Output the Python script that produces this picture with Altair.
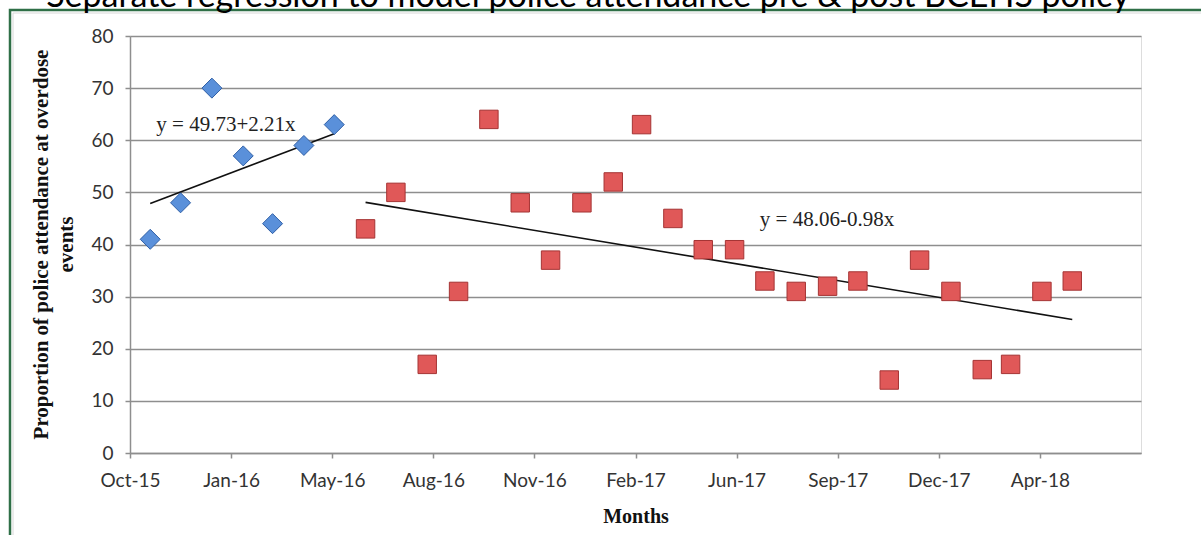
import altair as alt
import pandas as pd

# ---------------- data ----------------
months = [
    "2015-11", "2015-12", "2016-01", "2016-02", "2016-03", "2016-04", "2016-05",
    "2016-06", "2016-07", "2016-08", "2016-09", "2016-10", "2016-11", "2016-12",
    "2017-01", "2017-02", "2017-03", "2017-04", "2017-05", "2017-06", "2017-07",
    "2017-08", "2017-09", "2017-10", "2017-11", "2017-12", "2018-01", "2018-02",
    "2018-03", "2018-04", "2018-05",
]
pre_values = [41, 48, 70, 57, 44, 59, 63]
post_values = [43, 50, 17, 31, 64, 48, 37, 48, 52, 63, 45, 39, 39, 33, 31, 32,
               33, 14, 37, 31, 16, 17, 31, 33]

tick_labels = ["Oct-15", "Jan-16", "May-16", "Aug-16", "Nov-16", "Feb-17",
               "Jun-17", "Sep-17", "Dec-17", "Apr-18"]
axis_start = "2015-10-12"
tick_step_days = 100
axis_span_days = 1000
y_ticks = [0, 10, 20, 30, 40, 50, 60, 70, 80]

eq_texts = ["y = 49.73+2.21x", "y = 48.06-0.98x"]
eq_dates = ["2015-11-07", "2017-06-26"]
eq_values = [62.9, 44.7]

title_text = "Separate regression to model police attendance pre & post BCEHS policy"
y_title = ["Proportion of police attendance at overdose", "events"]
x_title = "Months"


def ms(s):
    return int(pd.Timestamp(s, tz="UTC").value // 10**6)


DAY = 86400000
t0 = ms(axis_start)

df = pd.DataFrame({
    "t": [ms(m + "-01") for m in months],
    "value": pre_values + post_values,
    "phase": ["pre"] * len(pre_values) + ["post"] * len(post_values),
})
ann = pd.DataFrame({
    "t": [ms(d) for d in eq_dates],
    "value": eq_values,
    "label": eq_texts,
})
one = pd.DataFrame({"a": [0]})

tick_values = [t0 + k * tick_step_days * DAY for k in range(len(tick_labels))]
label_expr = ("[" + ",".join("'%s'" % l for l in tick_labels) + "]"
              + "[round((datum.value - %d) / %d)]" % (t0, tick_step_days * DAY))

GRID = "#8e8e8e"
LABEL = "#333333"

xscale = alt.Scale(type="utc", domain=[t0, t0 + axis_span_days * DAY])
yscale = alt.Scale(domain=[0, 80], nice=False)

xenc = alt.X(
    "t:T", scale=xscale,
    axis=alt.Axis(
        values=tick_values, labelExpr=label_expr, grid=False,
        domainColor=GRID, domainWidth=1.5, tickColor=GRID, tickWidth=1.5, tickSize=5,
        labelFont="Lato", labelFontSize=19, labelColor=LABEL, labelPadding=13,
        labelFlush=False, labelOverlap=False,
        title=x_title, titleFont="Liberation Serif", titleFontSize=20,
        titleFontWeight="bold", titleColor="#111111",
        titleBaseline="alphabetic", titleY=69,
    ),
)
yenc = alt.Y(
    "value:Q", scale=yscale,
    axis=alt.Axis(
        values=y_ticks, grid=True, gridColor=GRID, gridWidth=1.5,
        domainColor=GRID, domainWidth=1.5, tickColor=GRID, tickWidth=1.5, tickSize=5,
        labelFont="Lato", labelFontSize=19, labelColor=LABEL, labelPadding=12,
        title=y_title, titleFont="Liberation Serif", titleFontSize=21,
        titleFontWeight="bold", titleColor="#111111", titleLineHeight=25,
        titleBaseline="alphabetic", titleX=-83, titleY=208,
    ),
)

frame = alt.Chart(one).mark_rect(fillOpacity=0, stroke="#2f6f47", strokeWidth=2.5).encode(
    x=alt.value(-120), y=alt.value(-26), x2=alt.value(1200), y2=alt.value(600)
)
frame_inner = alt.Chart(one).mark_rect(fillOpacity=0, stroke="#d8d8d8", strokeWidth=1).encode(
    x=alt.value(-117), y=alt.value(-23), x2=alt.value(1200), y2=alt.value(600)
)

title = alt.Chart(one).mark_text(
    text=title_text, font="Lato", fontSize=34, color="#000000",
    align="center", baseline="alphabetic",
).encode(x=alt.value(458), y=alt.value(-29))

pre_pts = alt.Chart(df).transform_filter("datum.phase == 'pre'").mark_point(
    shape="diamond", filled=True, fill="#5a90da", stroke="#2f5fa6",
    strokeWidth=1, size=400, opacity=1,
).encode(x=xenc, y=yenc)

post_pts = alt.Chart(df).transform_filter("datum.phase == 'post'").mark_point(
    shape="square", filled=True, fill="#e05858", stroke="#a53434",
    strokeWidth=1, size=340, opacity=1,
).encode(x=xenc, y=yenc)

trend = alt.Chart(df).transform_regression(
    "t", "value", groupby=["phase"]
).mark_line(color="#111111", strokeWidth=1.6).encode(x=xenc, y=yenc, detail="phase:N")

eqs = alt.Chart(ann).mark_text(
    font="Liberation Serif", fontSize=21, color="#222222",
    align="left", baseline="middle",
).encode(x=xenc, y=yenc, text="label:N")

chart = alt.layer(frame, frame_inner, title, trend, pre_pts, post_pts, eqs).properties(
    width=1011, height=417,
    autosize=alt.AutoSizeParams(type="none"),
    padding={"left": 130, "top": 36, "right": 60, "bottom": 82},
).configure_view(stroke=None).configure(background="white")

chart.save("out.html", embed_options={"renderer": "svg", "actions": False})
